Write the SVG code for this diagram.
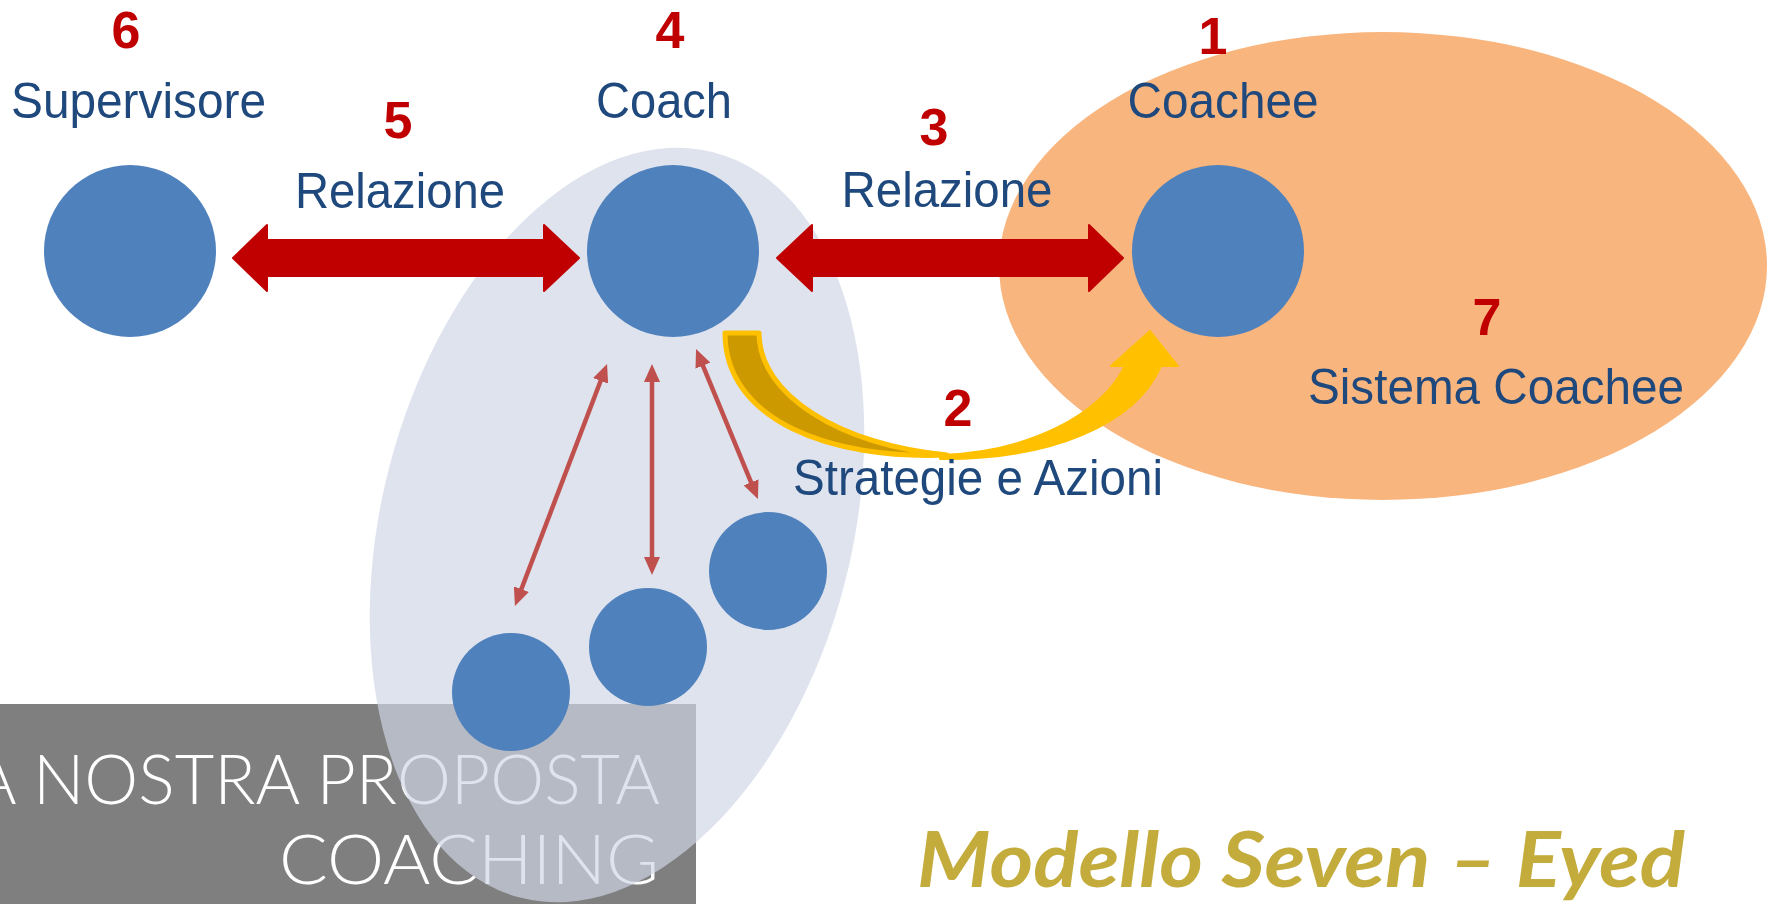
<svg xmlns="http://www.w3.org/2000/svg" width="1768" height="904" viewBox="0 0 1768 904">
<style>
.circ{fill:#4F81BD}
.lbl{font-family:"Liberation Sans",Arial,sans-serif;font-size:50px;fill:#1F497D;text-anchor:middle}
.num{font-family:"Liberation Sans",Arial,sans-serif;font-size:52px;font-weight:bold;fill:#C00000;text-anchor:middle}
.big{fill:#C00000;stroke:#C00000;stroke-width:2;stroke-linejoin:round}
.thin{stroke:#C0504D;stroke-width:4.5;fill:none;marker-start:url(#ah);marker-end:url(#ah)}
.band{font-family:"Lato","Liberation Sans",sans-serif;font-weight:300;font-size:68px;fill:#FFFFFF}
</style>
<defs>
<marker id="ah" viewBox="0 0 18 16" refX="10" refY="8" markerWidth="18" markerHeight="16" markerUnits="userSpaceOnUse" orient="auto-start-reverse">
<path d="M0,0 L18,8 L0,16 Z" fill="#C0504D"/>
</marker>
</defs>
<rect width="1768" height="904" fill="#FFFFFF"/>
<g id="title-box">
<rect x="0" y="704" width="696" height="200" fill="#7F7F7F"/>
<text class="band" x="-28" y="804" textLength="688" lengthAdjust="spacingAndGlyphs">A NOSTRA PROPOSTA</text>
<text class="band" x="279" y="884" textLength="380" lengthAdjust="spacingAndGlyphs">COACHING</text>
</g>
<g id="sistema-coachee-area">
<ellipse cx="1383" cy="266" rx="384" ry="234" fill="#F9B57E"/>
</g>
<g id="coach-system-area">
<ellipse cx="0" cy="0" rx="235" ry="385" transform="translate(617,525) rotate(14.6)" fill="#CED6E6" fill-opacity="0.68"/>
</g>
<g id="connectors">
<path class="big" d="M233,258 L267,225 L267,240 L544,240 L544,225 L579,258 L544,291 L544,276 L267,276 L267,291 Z"/>
<path class="big" d="M777,258 L812,225 L812,240 L1089,240 L1089,225 L1123,258 L1089,291 L1089,276 L812,276 L812,291 Z"/>
<line class="thin" x1="604.2" y1="371.5" x2="517.8" y2="598.5"/>
<line class="thin" x1="652" y1="372" x2="652" y2="567"/>
<line class="thin" x1="699.1" y1="356.4" x2="754.9" y2="491.6"/>
<g id="strategie-arrow">
<path d="M940,455 C1030,452 1100,415 1125,366 L1111,366 L1150,331 L1178,366 L1161,366 C1135,425 1050,460 940,459 Z" fill="#FFC000" stroke="#FFC000" stroke-width="2" stroke-linejoin="round"/>
<path d="M725,333 L759,333 C759,395 840,445 947,455 C830,460 725,420 725,333 Z" fill="#CC9900" stroke="#FFC000" stroke-width="5" stroke-linejoin="round"/>
</g>
</g>
<g id="node-supervisore">
<circle class="circ" cx="130" cy="251" r="86"/>
<text class="num" x="126" y="48">6</text>
<text class="lbl" x="138.5" y="118" textLength="255" lengthAdjust="spacingAndGlyphs">Supervisore</text>
</g>
<g id="label-relazione-5">
<text class="num" x="398" y="138">5</text>
<text class="lbl" x="400" y="208" textLength="210" lengthAdjust="spacingAndGlyphs">Relazione</text>
</g>
<g id="node-coach">
<circle class="circ" cx="673" cy="251" r="86"/>
<text class="num" x="670" y="48">4</text>
<text class="lbl" x="664" y="118" textLength="136" lengthAdjust="spacingAndGlyphs">Coach</text>
</g>
<g id="label-relazione-3">
<text class="num" x="934" y="145">3</text>
<text class="lbl" x="947" y="207" textLength="211" lengthAdjust="spacingAndGlyphs">Relazione</text>
</g>
<g id="node-coachee">
<circle class="circ" cx="1218" cy="251" r="86"/>
<text class="num" x="1213" y="54">1</text>
<text class="lbl" x="1223" y="118" textLength="191" lengthAdjust="spacingAndGlyphs">Coachee</text>
</g>
<g id="label-sistema-coachee">
<text class="num" x="1487" y="335">7</text>
<text class="lbl" x="1496" y="404" textLength="376" lengthAdjust="spacingAndGlyphs">Sistema Coachee</text>
</g>
<g id="label-strategie">
<text class="num" x="958" y="426">2</text>
<text class="lbl" x="978" y="495" textLength="370" lengthAdjust="spacingAndGlyphs">Strategie e Azioni</text>
</g>
<g id="node-sub1"><circle class="circ" cx="511" cy="692" r="59"/></g>
<g id="node-sub2"><circle class="circ" cx="648" cy="647" r="59"/></g>
<g id="node-sub3"><circle class="circ" cx="768" cy="571" r="59"/></g>
<g id="title">
<text x="917" y="887" textLength="768" lengthAdjust="spacingAndGlyphs" font-family="Lato,'Open Sans',sans-serif" font-weight="bold" font-style="italic" font-size="76" fill="#C4AC3C">Modello Seven – Eyed</text>
</g>
</svg>
